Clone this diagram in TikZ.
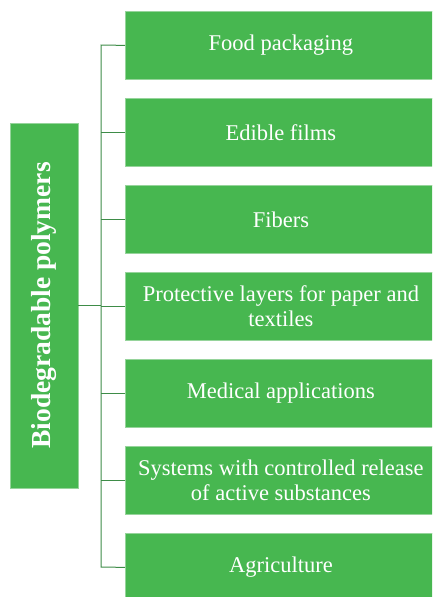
\documentclass[tikz,border=0pt]{standalone}
\usepackage{fontspec}
\setmainfont{Liberation Serif}
\definecolor{boxgreen}{RGB}{71,183,80}
\definecolor{edgegreen}{RGB}{150,212,155}
\definecolor{linegreen}{RGB}{62,140,72}
\begin{document}
\begin{tikzpicture}[x=1pt,y=1pt,
  itembox/.style={fill=boxgreen, draw=edgegreen, line width=0.8pt, anchor=north west,
    minimum width=311pt, minimum height=68pt, inner sep=0pt, align=center,
    text=white, font=\fontsize{22.5}{25}\selectfont},
  rootbox/.style={fill=boxgreen, draw=edgegreen, line width=0.8pt, rotate=90,
    minimum width=365pt, minimum height=68pt, inner sep=0pt, text=white,
    font=\fontsize{27.5}{30}\selectfont\bfseries},
  conn/.style={draw=linegreen, line width=1pt}]
\useasboundingbox (0,0) rectangle (432,-597);
\begin{scope}
\clip (0,0) rectangle (432,-597);
\node[rootbox] (root) at (44,-305.5) {Biodegradable polymers};
\node[itembox] (b1) at (125,-11) {Food packaging};
\node[itembox] (b2) at (125,-98) {Edible films};
\node[itembox] (b3) at (125,-185) {Fibers};
\node[itembox] (b4) at (125,-272) {Protective layers for paper and\\textiles};
\node[itembox] (b5) at (125,-359) {Medical applications};
\node[itembox] (b6) at (125,-446) {Systems with controlled release\\of active substances};
\node[itembox] (b7) at (125,-533) {Agriculture};
\coordinate (j1) at (101,-45);
\coordinate (j7) at (101,-567);
\draw[conn] (b1.west) -- (j1) -- (j7) -- (b7.west);
\foreach \i in {2,...,6} {\draw[conn] (b\i.west) -- (b\i.west -| j1);}
\draw[conn] (root.south) -- (root.south -| j1);
\end{scope}
\end{tikzpicture}
\end{document}
